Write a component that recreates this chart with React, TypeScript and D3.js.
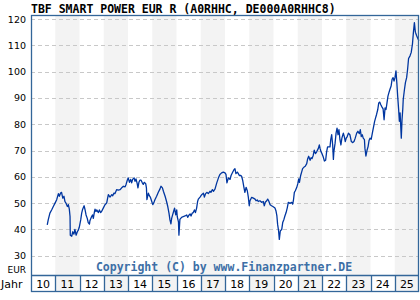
import React from "react";
import * as d3 from "d3";

const title = "TBF SMART POWER EUR R (A0RHHC, DE000A0RHHC8)";
const copyright = "Copyright (C) by www.Finanzpartner.DE";
const yearLabels = ["10","11","12","13","14","15","16","17","18","19","20","21","22","23","24","25"];
const yTicks = [30, 40, 50, 60, 70, 80, 90, 100, 110, 120];

const dates = [
  2010.67,2010.71,2010.78,2010.85,2010.92,2010.99,2011.06,2011.13,2011.17,2011.22,2011.26,2011.31,2011.36,2011.40,2011.44,2011.50,2011.54,2011.58,2011.61,2011.62,2011.68,2011.72,2011.77,2011.81,2011.86,2011.91,2011.95,2011.99,
  2012.05,2012.09,2012.13,2012.19,2012.23,2012.27,2012.32,2012.36,2012.41,2012.43,2012.50,2012.54,2012.57,2012.61,2012.64,2012.68,2012.71,2012.78,2012.82,2012.87,2012.91,2012.98,
  2013.05,2013.12,2013.16,2013.19,2013.26,2013.33,2013.37,2013.42,2013.46,2013.53,2013.60,2013.67,2013.74,2013.81,2013.88,2013.92,2013.97,
  2014.01,2014.06,2014.11,2014.15,2014.19,2014.25,2014.29,2014.33,2014.38,2014.41,2014.45,2014.49,2014.54,2014.59,2014.63,2014.67,2014.73,2014.76,2014.78,2014.84,2014.88,2014.92,2014.98,
  2015.02,2015.06,2015.11,2015.18,2015.25,2015.32,2015.36,2015.42,2015.46,2015.53,2015.59,2015.64,2015.69,2015.73,2015.77,2015.80,2015.84,2015.88,2015.92,2015.97,
  2016.01,2016.03,2016.08,2016.10,2016.14,2016.21,2016.28,2016.35,2016.42,2016.46,2016.52,2016.56,2016.60,2016.65,2016.69,2016.74,2016.78,2016.83,2016.87,2016.90,2016.97,
  2017.04,2017.11,2017.15,2017.20,2017.26,2017.31,2017.38,2017.42,2017.48,2017.53,2017.59,2017.66,2017.73,2017.79,2017.86,2017.93,
  2018.00,2018.04,2018.08,2018.14,2018.21,2018.25,2018.32,2018.37,2018.41,2018.45,2018.51,2018.55,2018.59,2018.65,2018.69,2018.73,2018.78,2018.82,2018.87,2018.92,2018.96,
  2019.00,2019.03,2019.10,2019.17,2019.24,2019.28,2019.33,2019.37,2019.44,2019.51,2019.58,2019.62,2019.66,2019.72,2019.76,2019.80,2019.86,2019.92,2019.99,
  2020.06,2020.10,2020.14,2020.17,2020.21,2020.24,2020.28,2020.34,2020.38,2020.43,2020.47,2020.52,2020.57,2020.61,2020.68,2020.75,2020.79,2020.82,2020.86,2020.90,2020.96,
  2021.00,2021.04,2021.07,2021.12,2021.16,2021.20,2021.26,2021.31,2021.37,2021.41,2021.45,2021.51,2021.55,2021.59,2021.64,2021.68,2021.73,2021.78,2021.85,2021.89,2021.92,2021.96,
  2022.00,2022.05,2022.10,2022.15,2022.19,2022.23,2022.33,2022.36,2022.40,2022.44,2022.47,2022.49,2022.54,2022.58,2022.62,2022.66,2022.70,2022.74,2022.78,2022.82,2022.88,2022.92,2022.96,
  2023.00,2023.04,2023.09,2023.15,2023.21,2023.26,2023.32,2023.37,2023.43,2023.48,2023.54,2023.58,2023.62,2023.66,2023.70,2023.75,2023.77,2023.81,2023.86,2023.90,2023.94,2023.98,
  2024.03,2024.09,2024.13,2024.17,2024.21,2024.25,2024.30,2024.34,2024.38,2024.42,2024.47,2024.52,2024.56,2024.60,2024.64,2024.68,2024.72,2024.76,2024.80,2024.85,2024.89,2024.93,2024.97,
  2025.01,2025.05,2025.09,2025.12,2025.16,2025.19,2025.22,2025.24,2025.27,2025.30,2025.33,2025.35,2025.40,2025.44,2025.49,2025.53,2025.57,2025.63,2025.68,2025.73,2025.77,2025.81,2025.85,2025.90,2025.96,2026.00,
];

const prices = [
  41.7,43.6,46.2,47.4,48.7,50.0,51.3,53.6,52.6,53.8,54.1,51.9,52.6,50.6,50.0,48.7,49.4,47.7,44.9,37.8,37.4,39.1,38.2,40.0,37.8,39.1,39.7,40.8,
  43.6,46.2,47.7,49.0,47.4,45.5,44.2,42.6,42.0,43.3,44.9,45.5,44.2,46.4,47.7,46.8,47.4,46.4,47.4,46.4,46.8,48.1,
  49.4,50.0,51.9,53.2,52.3,53.2,52.8,53.8,53.6,55.1,54.9,55.1,55.8,56.4,56.2,57.1,58.7,
  59.6,57.9,59.0,57.7,59.0,59.6,58.3,59.2,57.4,55.8,57.9,58.7,58.7,57.7,57.1,57.9,57.4,55.8,51.3,53.8,52.8,52.3,50.6,
  49.4,50.0,51.3,52.6,54.1,55.4,56.4,55.8,54.5,52.6,50.6,48.7,46.2,43.6,42.1,44.2,45.5,46.8,48.1,45.5,
  47.4,44.9,42.9,37.8,43.8,44.6,44.9,45.1,45.5,44.6,45.5,45.9,45.1,46.2,46.4,47.4,46.4,48.1,50.6,51.5,52.3,
  53.2,53.8,52.3,53.6,54.1,53.6,54.5,54.1,55.1,54.5,55.4,57.7,59.6,60.9,61.5,61.8,
  61.5,60.9,57.7,59.6,59.0,60.5,61.8,62.7,63.1,61.2,61.8,61.2,60.5,60.5,60.1,58.6,56.0,54.1,56.0,54.7,52.4,
  49.0,50.9,52.2,51.9,51.5,50.9,51.2,50.6,50.9,50.3,50.6,49.0,50.3,50.9,51.5,50.9,49.4,49.0,48.6,
  48.1,47.1,45.1,41.9,39.4,36.2,39.4,40.0,42.6,43.8,45.1,46.4,48.3,50.3,49.9,50.3,49.6,50.9,54.1,54.7,56.0,
  57.3,59.2,57.9,60.5,61.8,63.1,63.7,64.0,65.0,66.9,67.8,66.3,67.3,66.9,68.2,70.1,68.8,69.5,70.8,72.1,70.8,69.5,
  68.8,67.6,66.0,66.3,69.5,71.4,71.4,74.1,76.0,72.1,66.6,69.6,72.8,76.6,78.5,76.0,77.9,74.1,72.1,74.7,76.6,75.3,73.4,
  74.7,75.3,76.6,76.0,73.4,73.0,73.4,74.7,76.6,77.3,76.4,77.9,75.3,76.0,74.7,74.1,70.9,67.9,70.2,71.5,73.8,74.7,
  74.3,77.3,79.2,81.1,82.4,83.7,85.6,88.1,88.4,87.5,86.6,85.8,81.7,86.2,85.6,88.1,90.7,92.0,93.2,94.5,97.1,97.7,96.4,
  97.7,100.3,95.2,90.7,85.6,81.1,84.3,80.5,74.7,81.7,85.6,89.4,93.2,95.8,97.7,100.9,105.0,106.0,107.3,110.5,115.0,118.6,115.0,113.7,112.4,111.8,
];

const W = 420, H = 300;
const left = 31, right = 419, top = 15, plotBottom = 275, axisBottom = 292;
const frame = "#336699";
const monoFont = "'DejaVu Sans Mono', monospace";
const sansFont = "'DejaVu Sans', Verdana, sans-serif";

export default function App() {
  const x = d3.scaleLinear().domain([2010, 2026]).range([left, right]);
  const y = d3.scaleLinear().domain([30, 120]).range([255.7, 19]);
  const years = d3.range(2010, 2026);
  const data = dates.map((d, i) => [d, prices[i]] as [number, number]);
  const line = d3.line<[number, number]>().x(d => x(d[0])).y(d => y(d[1]));

  return (
    <svg width={W} height={H} style={{ position: "fixed", left: 0, top: 0, background: "#fff" }}>
      <rect x={0} y={0} width={W} height={H} fill="#fff" />
      {years.map((yr, i) =>
        i % 2 === 1 ? (
          <rect key={yr} x={x(yr)} y={top} width={x(yr + 1) - x(yr)} height={axisBottom - top} fill="#f3f3f3" />
        ) : null
      )}
      {yTicks.map(t => (
        <line key={t} x1={left} x2={right} y1={Math.round(y(t)) + 0.5} y2={Math.round(y(t)) + 0.5}
          stroke="#c8c8c8" strokeWidth={1} strokeDasharray="4,3" />
      ))}
      {yTicks.map(t => (
        <text key={"l" + t} x={26} y={y(t) + 3.5} textAnchor="end" fontFamily={sansFont} fontSize={9.5} fill="#000">{t}</text>
      ))}
      <text x={26} y={272.5} textAnchor="end" fontFamily={sansFont} fontSize={9} fill="#000">EUR</text>
      <text x={1} y={287.5} fontFamily={sansFont} fontSize={11} fill="#000">Jahr</text>
      <text x={224} y={271} textAnchor="middle" fontFamily={monoFont} fontWeight="bold" fontSize={11.5} fill="#3d6fa6">{copyright}</text>
      <path d={line(data) || ""} fill="none" stroke="#0036a0" strokeWidth={1.3} strokeLinejoin="round" />
      <text x={31} y={12.5} fontFamily={monoFont} fontWeight="bold" fontSize={11.5} fill="#000">{title}</text>
      {/* frame */}
      <rect x={left + 0.5} y={top + 0.5} width={right - left - 1} height={axisBottom - top - 1} fill="none" stroke={frame} strokeWidth={1.3} />
      <line x1={left} x2={right} y1={plotBottom + 0.5} y2={plotBottom + 0.5} stroke={frame} strokeWidth={1.3} />
      {years.slice(1).map(yr => (
        <line key={"s" + yr} x1={Math.round(x(yr)) + 0.5} x2={Math.round(x(yr)) + 0.5} y1={plotBottom} y2={axisBottom} stroke={frame} strokeWidth={1.3} />
      ))}
      {years.map((yr, i) => (
        <text key={"y" + yr} x={x(yr + 0.5)} y={287.5} textAnchor="middle" fontFamily={sansFont} fontSize={11} fill="#000">{yearLabels[i]}</text>
      ))}
    </svg>
  );
}
